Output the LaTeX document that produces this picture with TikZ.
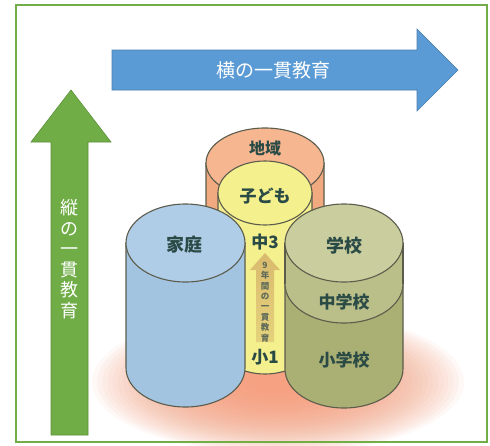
\documentclass[tikz,border=0pt]{standalone}
\usepackage{fontspec}
\newfontfamily\jp{Noto Sans CJK JP}
\definecolor{frame}{HTML}{72AE48}
\definecolor{harrow}{HTML}{5B9BD5}
\definecolor{harrowline}{HTML}{4A7FB0}
\definecolor{varrow}{HTML}{70AD47}
\definecolor{varrowline}{HTML}{5A9038}
\definecolor{glowc}{HTML}{F59C78}
\definecolor{outline}{HTML}{5C5C4C}
\definecolor{orangetop}{HTML}{F5B690}
\definecolor{orangebody}{HTML}{F1A97F}
\definecolor{yellowc}{HTML}{F4F08E}
\definecolor{bluetop}{HTML}{B0CDE8}
\definecolor{bluebody}{HTML}{A2C4E0}
\definecolor{greentop}{HTML}{CACE9F}
\definecolor{greenmid}{HTML}{BABF89}
\definecolor{greenlow}{HTML}{AAAF73}
\definecolor{labelc}{HTML}{2A4A46}
\definecolor{ninearrow}{HTML}{D9BA6E}
\definecolor{ninetext}{HTML}{5E6A58}
\begin{document}
\begin{tikzpicture}[x=1pt,y=-1pt,
  shape line/.style={draw=outline, line width=1.1pt},
  cyllabel/.style={font=\jp\bfseries\fontsize{17}{17}\selectfont, text=labelc, inner sep=0pt},
  arrowtext/.style={font=\jp\fontsize{18}{20.5}\selectfont, text=white, inner sep=0pt, align=center}]
\useasboundingbox (0,0) rectangle (490,445);
\fill[white] (0,0) rectangle (490,445);

% soft glow under the cylinders, built from stacked translucent ellipses
\foreach \k in {1,...,32}{
  \fill[glowc, opacity=0.065]
    (278,382) ellipse [x radius={186*(1-(\k-1)/36)}, y radius={72*(1-(\k-1)/36)}];
}

% horizontal arrow
\draw[fill=harrow, draw=harrowline, line width=0.6pt]
  (112,50) -- (417,50) -- (417,29) -- (458,70) -- (417,111) -- (417,90) -- (112,90) -- cycle;
\node[arrowtext, font=\jp\fontsize{19}{19}\selectfont] (hlabel) at (273,70) {横の一貫教育};

% vertical arrow
\draw[fill=varrow, draw=varrowline, line width=0.6pt]
  (51,435) -- (51,142) -- (31,142) -- (71,90) -- (111,142) -- (88,142) -- (88,435) -- cycle;
\node[arrowtext] (vlabel) at (69,259) {縦\\の\\一\\貫\\教\\育};

% community cylinder (back)
\path[shape line, fill=orangebody]
  (206,163) -- (206,330) arc[start angle=180, end angle=0, x radius=59, y radius=35] -- (324,163) -- cycle;
\path[shape line, fill=orangetop] (265,163) ellipse [x radius=59, y radius=35];

% child cylinder
\path[shape line, fill=yellowc]
  (218,193) -- (218,342) arc[start angle=180, end angle=0, x radius=47, y radius=32] -- (312,193) -- cycle;
\path[shape line, fill=yellowc] (265,193) ellipse [x radius=47, y radius=32];

% nine-year arrow inside the child cylinder
\shade[top color=ninearrow, bottom color=ninearrow!55!yellowc]
  (256,342) -- (256,270) -- (250,270) -- (265,253) -- (280,270) -- (274,270) -- (274,342) -- cycle;
\node[font=\jp\bfseries\fontsize{8.5}{10.4}\selectfont, text=ninetext, align=center, inner sep=0pt]
  (ninelabel) at (265,302) {9\\年\\間\\の\\一\\貫\\教\\育};

% family cylinder
\path[shape line, fill=bluebody]
  (126,243) -- (126,368) arc[start angle=180, end angle=0, x radius=59.5, y radius=39] -- (245,243) -- cycle;
\path[shape line, fill=bluetop] (185.5,243) ellipse [x radius=59.5, y radius=39];

% school cylinder with two bands
\path[shape line, fill=greenlow]
  (285,243) -- (285,369) arc[start angle=180, end angle=0, x radius=59, y radius=39] -- (403,243) -- cycle;
\path[fill=greenmid]
  (285,243) -- (285,284) arc[start angle=180, end angle=0, x radius=59, y radius=39] -- (403,243) -- cycle;
\draw[outline, line width=1.1pt] (285,284) arc[start angle=180, end angle=0, x radius=59, y radius=39];
\draw[outline, line width=1.1pt] (285,243) -- (285,284) (403,243) -- (403,284);
\path[shape line, fill=greentop] (344,243) ellipse [x radius=59, y radius=39];

% labels
\node[cyllabel, font=\jp\bfseries\fontsize{16}{16}\selectfont] (community) at (265,148) {地域};
\node[cyllabel] (child) at (265,196) {子ども};
\node[cyllabel] (junior3) at (265,242) {中3};
\node[cyllabel] (primary1) at (265,357) {小1};
\node[cyllabel, font=\jp\bfseries\fontsize{18}{18}\selectfont] (family) at (184,245) {家庭};
\node[cyllabel, font=\jp\bfseries\fontsize{18}{18}\selectfont] (school) at (344,246) {学校};
\node[cyllabel] (junior) at (344,302) {中学校};
\node[cyllabel] (primary) at (344,360) {小学校};

% outer frame
\draw[frame, line width=2.4pt] (16,5) rectangle (487,442);
\end{tikzpicture}
\end{document}
